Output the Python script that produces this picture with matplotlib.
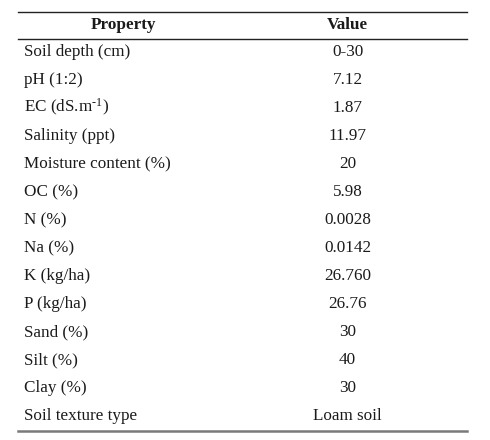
import matplotlib
matplotlib.use("Agg")
import matplotlib.pyplot as plt
from matplotlib.lines import Line2D

plt.rcParams['font.family'] = ['Liberation Serif', 'DejaVu Serif']
plt.rcParams['mathtext.fontset'] = 'custom'
plt.rcParams['mathtext.rm'] = 'Liberation Serif'
plt.rcParams['mathtext.it'] = 'Liberation Serif:italic'

headers = ["Property", "Value"]
properties = ["Soil depth (cm)", "pH (1:2)", r"EC (dS.m$^{\text{-1}}$)", "Salinity (ppt)",
              "Moisture content (%)", "OC (%)", "N (%)", "Na (%)", "K (kg/ha)",
              "P (kg/ha)", "Sand (%)", "Silt (%)", "Clay (%)", "Soil texture type"]
values = ["0-30", "7.12", "1.87", "11.97", "20", "5.98", "0.0028", "0.0142",
          "26.760", "26.76", "30", "40", "30", "Loam soil"]

W, H = 490, 440
fig = plt.figure(figsize=(W / 100, H / 100), dpi=100)
ax = fig.add_axes([0, 0, 1, 1])
ax.set_xlim(0, W)
ax.set_ylim(H, 0)
ax.axis('off')

txt = '#1a1a1a'
fs = 12.3
# rules
ax.add_line(Line2D([18, 467], [12, 12], color='#222222', lw=1.0))
ax.add_line(Line2D([18, 467], [39.3, 39.3], color='#222222', lw=1.0))
ax.add_line(Line2D([18, 467], [431, 431], color='#7a7a7a', lw=1.8))

# header
ax.text(123, 29, headers[0], ha='center', va='baseline', fontsize=fs, fontweight='bold', color=txt)
ax.text(347.5, 29, headers[1], ha='center', va='baseline', fontsize=fs, fontweight='bold', color=txt)

for i, (p, v) in enumerate(zip(properties, values)):
    y = 56 + 28 * i
    ax.text(23.5, y, p, ha='left', va='baseline', fontsize=fs, color=txt)
    ax.text(347.5, y, v, ha='center', va='baseline', fontsize=fs, color=txt)

fig.savefig("out.png", dpi=100)
